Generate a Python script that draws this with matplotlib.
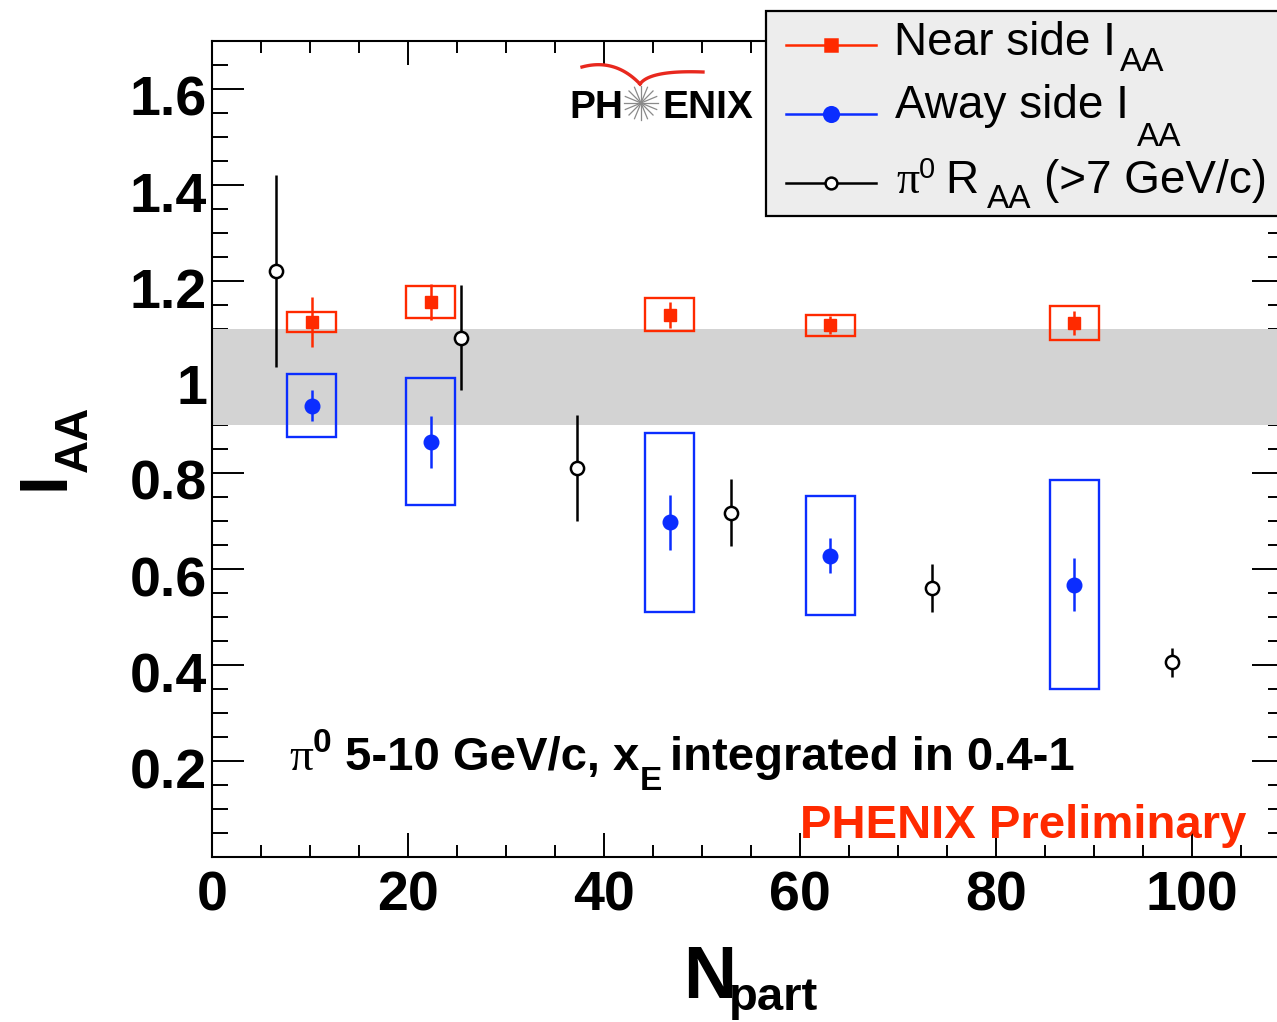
import numpy as np
import matplotlib
matplotlib.use("Agg")
import matplotlib.pyplot as plt
from matplotlib.patches import Rectangle
from matplotlib.lines import Line2D
from matplotlib.ticker import MultipleLocator

plt.rcParams['font.family'] = ['Liberation Sans', 'DejaVu Sans']

# near side I_AA (red squares)
near_npart = [10.2, 22.3, 46.7, 63.1, 88.0]
near_iaa = [1.114, 1.156, 1.130, 1.108, 1.1125]
near_stat = [0.052, 0.037, 0.027, 0.019, 0.025]
near_sys = [0.021, 0.033, 0.035, 0.022, 0.035]

# away side I_AA (blue circles)
away_npart = [10.2, 22.3, 46.7, 63.1, 88.0]
away_iaa = [0.940, 0.865, 0.697, 0.628, 0.567]
away_stat = [0.032, 0.054, 0.058, 0.036, 0.055]
away_sys = [0.066, 0.132, 0.187, 0.124, 0.218]

# pi0 R_AA above 7 GeV/c (open circles)
raa_npart = [6.5, 25.4, 37.3, 53.0, 73.5, 98.0]
raa_val = [1.221, 1.082, 0.810, 0.717, 0.560, 0.406]
raa_err = [0.20, 0.11, 0.111, 0.07, 0.05, 0.03]

# normalisation uncertainty band
norm_lo, norm_hi = 0.9, 1.1
box_halfwidth = 2.5

xticks = [0, 20, 40, 60, 80, 100]
yticks = [0.2, 0.4, 0.6, 0.8, 1.0, 1.2, 1.4, 1.6]
ytick_labels = ["0.2", "0.4", "0.6", "0.8", "1", "1.2", "1.4", "1.6"]

RED = '#ff2a00'
BLUE = '#0b2dff'

W, H = 1277, 1022
def fx(x):
    return x / W
def fy(y):
    return 1 - y / H

fig = plt.figure(figsize=(W / 100, H / 100), dpi=100)
ax = fig.add_axes([212 / W, (H - 857) / H, 1072 / W, 816 / H])
ax.set_xlim(0, 109.4)
ax.set_ylim(0, 1.7)
ax.set_axisbelow(True)

ax.axhspan(norm_lo, norm_hi, color='#d3d3d3', lw=0, zorder=1)

# systematic boxes
for x, y, s in zip(near_npart, near_iaa, near_sys):
    ax.add_patch(Rectangle((x - box_halfwidth, y - s), 2 * box_halfwidth, 2 * s,
                           fill=False, ec=RED, lw=1.7, zorder=3))
for x, y, s in zip(away_npart, away_iaa, away_sys):
    ax.add_patch(Rectangle((x - box_halfwidth, y - s), 2 * box_halfwidth, 2 * s,
                           fill=False, ec=BLUE, lw=1.7, zorder=3))

ax.errorbar(near_npart, near_iaa, yerr=near_stat, fmt='s', color=RED, ms=8.8,
            elinewidth=1.8, capsize=0, zorder=4)
ax.errorbar(away_npart, away_iaa, yerr=away_stat, fmt='o', color=BLUE, ms=10.5,
            elinewidth=1.8, capsize=0, zorder=4)
ax.errorbar(raa_npart, raa_val, yerr=raa_err, fmt='o', color='black', mfc='white',
            mec='black', mew=1.8, ms=9.5, elinewidth=1.8, capsize=0, zorder=5)

# ROOT-like frame: ticks inside on all four sides
ax.xaxis.set_major_locator(MultipleLocator(20))
ax.xaxis.set_minor_locator(MultipleLocator(5))
ax.yaxis.set_major_locator(MultipleLocator(0.2))
ax.yaxis.set_minor_locator(MultipleLocator(0.05))
ax.tick_params(axis='x', which='major', direction='in', length=17.3, width=1.4,
               top=True, bottom=True, labelbottom=False)
ax.tick_params(axis='x', which='minor', direction='in', length=8.6, width=1.4,
               top=True, bottom=True)
ax.tick_params(axis='y', which='major', direction='in', length=23, width=1.4,
               left=True, right=True, labelleft=False)
ax.tick_params(axis='y', which='minor', direction='in', length=11.5, width=1.4,
               left=True, right=True)
for sp in ax.spines.values():
    sp.set_linewidth(1.5)

# tick labels
for v in xticks:
    px, _ = ax.transData.transform((v, 0))
    fig.text(px / W, fy(910), str(v), fontsize=40, fontweight='bold',
             ha='center', va='baseline')
for v, lab in zip(yticks, ytick_labels):
    _, py = ax.transData.transform((0, v))
    fig.text(fx(207), (py - 27) / H, lab, fontsize=40, fontweight='bold',
             ha='right', va='baseline')

# axis titles
fig.text(fx(683), fy(998), "N", fontsize=53, fontweight='bold', va='baseline')
fig.text(fx(729), fy(1010), "part", fontsize=34, fontweight='bold', va='baseline')
fig.text(fx(64), fy(490), "I", fontsize=49, fontweight='bold', rotation=90,
         rotation_mode='anchor', ha='left', va='baseline')
fig.text(fx(87), fy(472), "AA", fontsize=33, fontweight='bold', rotation=90,
         rotation_mode='anchor', ha='left', va='baseline')

# annotations
fig.text(fx(289), fy(770), "\u03c0", fontsize=34, family='Liberation Serif', va='baseline')
fig.text(fx(313), fy(752), "0", fontsize=24, fontweight='bold', va='baseline')
fig.text(fx(345), fy(770), "5-10 GeV/c, x", fontsize=34, fontweight='bold', va='baseline')
fig.text(fx(640), fy(790), "E", fontsize=24, fontweight='bold', va='baseline')
fig.text(fx(670), fy(770), "integrated in 0.4-1", fontsize=34, fontweight='bold',
         va='baseline')
fig.text(fx(800), fy(838), "PHENIX Preliminary", fontsize=34, fontweight='bold',
         color=RED, va='baseline')

# PHENIX logo
fig.text(fx(569), fy(118), "PH", fontsize=28, fontweight='bold', va='baseline')
fig.text(fx(662), fy(118), "ENIX", fontsize=28, fontweight='bold', va='baseline')
cx, cy = 641, 103
for a in np.linspace(0, np.pi, 9)[:-1]:
    dx, dy = 17 * np.cos(a), 17 * np.sin(a)
    fig.add_artist(Line2D([fx(cx - dx), fx(cx + dx)], [fy(cy - dy), fy(cy + dy)],
                          color='#8a8a8a', lw=0.9))
t = np.linspace(0, 1, 40)
def bezier(p0, p1, p2):
    bx = (1 - t) ** 2 * p0[0] + 2 * (1 - t) * t * p1[0] + t ** 2 * p2[0]
    by = (1 - t) ** 2 * p0[1] + 2 * (1 - t) * t * p1[1] + t ** 2 * p2[1]
    return fx(bx), fy(by)
for seg in [((582, 67), (615, 58), (640, 84)), ((640, 84), (650, 70), (703, 72))]:
    sx, sy = bezier(*seg)
    fig.add_artist(Line2D(sx, sy, color='#e8281e', lw=2.4))

# legend
fig.add_artist(Rectangle((fx(766), fy(216)), (1300 - 766) / W, (216 - 11) / H,
                         transform=fig.transFigure, fc='#ededed', ec='black', lw=1.6))
rows = [(45, RED, 's', RED, 9.0), (114, BLUE, 'o', BLUE, 10.5), (183, 'black', 'o', 'white', 8.5)]
for yy, col, mk, face, ms in rows:
    fig.add_artist(Line2D([fx(786), fx(876)], [fy(yy), fy(yy)], color=col, lw=1.8))
    fig.add_artist(Line2D([fx(831)], [fy(yy)], marker=mk, color=col, mfc=face,
                          mec=col, mew=1.8, ms=ms, ls='none'))
fig.text(fx(894), fy(55), "Near side I", fontsize=33, va='baseline')
fig.text(fx(1120), fy(71), "AA", fontsize=24, va='baseline')
fig.text(fx(895), fy(118), "Away side I", fontsize=33, va='baseline')
fig.text(fx(1137), fy(146), "AA", fontsize=24, va='baseline')
fig.text(fx(896), fy(193), "\u03c0", fontsize=33, family='Liberation Serif', va='baseline')
fig.text(fx(919), fy(178), "0", fontsize=21, va='baseline')
fig.text(fx(945), fy(193), "R", fontsize=33, va='baseline')
fig.text(fx(987), fy(208), "AA", fontsize=24, va='baseline')
fig.text(fx(1044), fy(193), "(>7 GeV/c)", fontsize=33, va='baseline')

fig.savefig("out.png", dpi=100)
